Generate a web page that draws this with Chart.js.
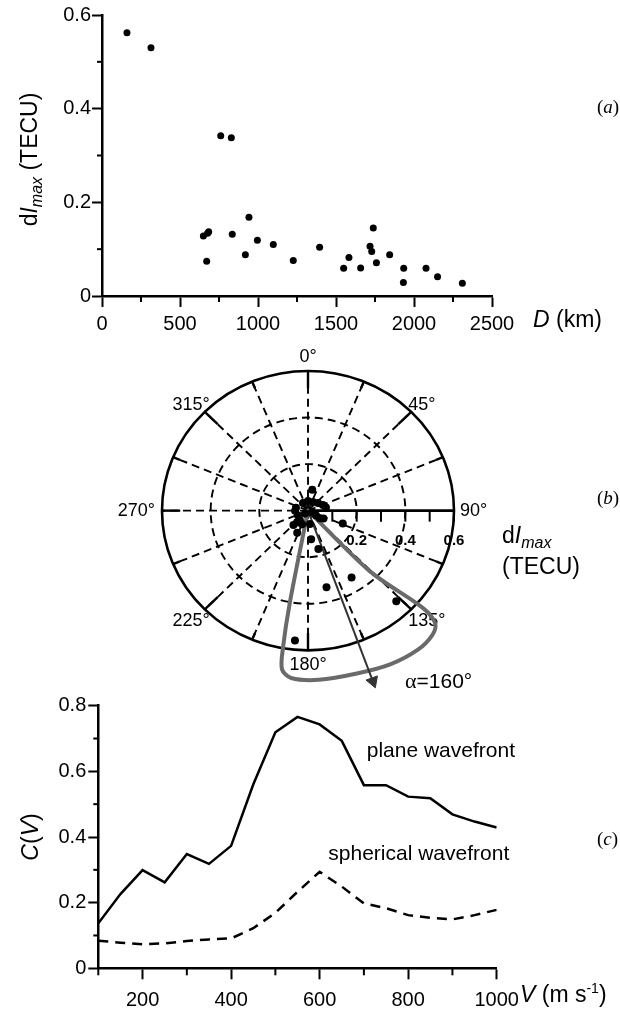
<!DOCTYPE html>
<html><head><meta charset="utf-8">
<script src="https://cdn.jsdelivr.net/npm/chart.js@4.4.1/dist/chart.umd.min.js"></script>
<style>
html,body{margin:0;padding:0;background:#fff;}
#wrap{position:relative;width:620px;height:1012px;overflow:hidden;background:#fff;}
canvas{position:absolute;left:0;}
</style></head><body>
<div id="wrap">
<canvas id="ca" width="620" height="345" style="top:0px"></canvas>
<canvas id="cc" width="620" height="322" style="top:690px"></canvas>
<canvas id="cb" width="620" height="370" style="top:340px"></canvas>
</div>
<script>
// ---------- Panel (a): dI_max vs distance ----------
const distanceKm = [160, 314, 761, 829, 650, 677, 684, 671, 835, 942, 919, 996, 1098, 1226, 1395, 1549, 1583, 1658, 1739, 1718, 1729, 1759, 1844, 1934, 1932, 2077, 2151, 2310];
const dImaxTECU  = [0.562, 0.530, 0.342, 0.338, 0.128, 0.134, 0.137, 0.074, 0.132, 0.168, 0.088, 0.119, 0.110, 0.076, 0.104, 0.059, 0.082, 0.060, 0.145, 0.106, 0.095, 0.071, 0.088, 0.059, 0.029, 0.059, 0.041, 0.027];
const aXMajor = [0, 500, 1000, 1500, 2000, 2500];
const aXLabels = ['0', '500', '1000', '1500', '2000', '2500'];
const aXMinor = [250, 750, 1250, 1750, 2250];
const aYMajor = [0, 0.2, 0.4, 0.6];
const aYLabels = ['0', '0.2', '0.4', '0.6'];
const aYMinor = [0.1, 0.3, 0.5];

// ---------- Panel (b): polar diagram ----------
const azimuthDeg = [185.5, 137, 148, 167, 165.5, 111, 174, 205, 224, 11, 118, 284, 243, 219, 328, 0, 29, 51, 68, 80, 270, 225, 117, 122, 124, 203, 172, 222];
const polarDImax = [0.560, 0.532, 0.338, 0.338, 0.170, 0.153, 0.124, 0.105, 0.086, 0.091, 0.072, 0.051, 0.046, 0.053, 0.039, 0.041, 0.042, 0.053, 0.066, 0.075, 0.053, 0.017, 0.018, 0.039, 0.059, 0.063, 0.058, 0.067];
const lobeAzimuth = [0, 190.7, 189.9, 188.9, 185.5, 176.5, 164, 152.7, 142.9, 136.5, 133, 131.6, 131.7, 135.7, 0];
const lobeRadius  = [0, 0.404, 0.598, 0.690, 0.722, 0.728, 0.728, 0.742, 0.749, 0.740, 0.716, 0.660, 0.600, 0.363, 0];
const arrowAzimuth = 160;
const arrowLength = 0.78;
const polarRings = [0.2, 0.4];
const polarMax = 0.6;
const polarRadialTicks = [0.1, 0.2, 0.3, 0.4, 0.5, 0.6];
const polarRadialLabels = ['0.2', '0.4', '0.6'];
const polarAngleLabels = ['0°', '45°', '90°', '135°', '180°', '225°', '270°', '315°'];

// ---------- Panel (c): C(V) ----------
const speedV = [100, 150, 200, 250, 300, 350, 400, 450, 500, 550, 600, 650, 700, 750, 800, 850, 900, 950, 1000];
const planeC = [0.137, 0.226, 0.299, 0.262, 0.348, 0.318, 0.373, 0.560, 0.719, 0.766, 0.743, 0.693, 0.558, 0.558, 0.523, 0.518, 0.469, 0.447, 0.429];
const sphericalC = [0.084, 0.078, 0.073, 0.076, 0.083, 0.088, 0.091, 0.122, 0.169, 0.233, 0.294, 0.249, 0.198, 0.183, 0.162, 0.154, 0.149, 0.162, 0.178];
const cXMajor = [200, 400, 600, 800, 1000];
const cXLabels = ['200', '400', '600', '800', '1000'];
const cXMinor = [100, 300, 500, 700, 900];
const cYMajor = [0, 0.2, 0.4, 0.6, 0.8];
const cYLabels = ['0', '0.2', '0.4', '0.6', '0.8'];
const cYMinor = [0.1, 0.3, 0.5, 0.7];

const SANS = '"Liberation Sans", Arial, Helvetica, sans-serif';
const SERIF = '"Liberation Serif", "Times New Roman", serif';

function runs(ctx, x, y, parts) {
  let cx = x;
  parts.forEach(p => {
    ctx.font = p.font;
    ctx.fillText(p.text, cx, y + (p.dy || 0));
    cx += ctx.measureText(p.text).width;
  });
}
function runsWidth(ctx, parts) {
  let w = 0;
  parts.forEach(p => { ctx.font = p.font; w += ctx.measureText(p.text).width; });
  return w;
}
function rotatedRuns(ctx, baseX, centerY, parts) {
  ctx.save();
  ctx.translate(baseX, centerY);
  ctx.rotate(-Math.PI / 2);
  ctx.textAlign = 'left';
  ctx.textBaseline = 'alphabetic';
  const w = runsWidth(ctx, parts);
  runs(ctx, -w / 2, 0, parts);
  ctx.restore();
}
function minorTicks(chart, xMinor, yMinor, xLen, yLen) {
  const {ctx, chartArea} = chart;
  const xs = chart.scales.x, ys = chart.scales.y;
  ctx.save();
  ctx.strokeStyle = '#000';
  ctx.lineWidth = 2;
  xMinor.forEach(v => {
    const p = xs.getPixelForValue(v);
    ctx.beginPath(); ctx.moveTo(p, chartArea.bottom); ctx.lineTo(p, chartArea.bottom + xLen); ctx.stroke();
  });
  yMinor.forEach(v => {
    const p = ys.getPixelForValue(v);
    ctx.beginPath(); ctx.moveTo(chartArea.left, p); ctx.lineTo(chartArea.left - yLen, p); ctx.stroke();
  });
  ctx.restore();
}

function axisOpts(min, max, major, labels, fitProp, fitVal, tickLen, pad) {
  return {
    type: 'linear', min: min, max: max,
    afterBuildTicks: s => { s.ticks = major.map(v => ({value: v})); },
    afterFit: s => { s[fitProp] = fitVal; },
    grid: {drawOnChartArea: false, drawTicks: true, tickLength: tickLen, tickWidth: 2, tickColor: '#000'},
    border: {display: true, color: '#000', width: 2.5},
    ticks: {
      font: {family: SANS, size: 20}, color: '#000', padding: pad,
      maxRotation: 0, autoSkip: false,
      callback: (v, i) => labels[i]
    }
  };
}

Chart.defaults.animation = false;

// ---------- Chart (a) ----------
new Chart(document.getElementById('ca'), {
  type: 'scatter',
  data: {datasets: [{
    data: distanceKm.map((d, i) => ({x: d, y: dImaxTECU[i]})),
    pointRadius: 3.5, pointBackgroundColor: '#000', pointBorderWidth: 0, showLine: false
  }]},
  options: {
    responsive: false, animation: false, events: [],
    layout: {padding: {left: 0, top: 15, right: 128, bottom: 0}},
    plugins: {legend: {display: false}, tooltip: {enabled: false}},
    scales: {
      x: axisOpts(0, 2500, aXMajor, aXLabels, 'height', 49, 11, 5),
      y: axisOpts(0, 0.6, aYMajor, aYLabels, 'width', 102, 10, 1)
    }
  },
  plugins: [{
    id: 'decorA',
    afterDraw(chart) {
      const ctx = chart.ctx;
      minorTicks(chart, aXMinor, aYMinor, 6, 5);
      ctx.save();
      ctx.fillStyle = '#000';
      const ca = chart.chartArea;
      rotatedRuns(ctx, 37, (ca.top + ca.bottom) / 2 + 4, [
        {text: 'd', font: '23px ' + SANS},
        {text: 'I', font: 'italic 23px ' + SANS},
        {text: 'max', font: 'italic 16px ' + SANS, dy: 5},
        {text: ' (TECU)', font: '23px ' + SANS}
      ]);
      ctx.textAlign = 'left'; ctx.textBaseline = 'alphabetic';
      runs(ctx, 533, 327, [
        {text: 'D', font: 'italic 23px ' + SANS},
        {text: ' (km)', font: '23px ' + SANS}
      ]);
      runs(ctx, 597, 113, [{text: '(', font: '19px ' + SERIF}, {text: 'a', font: 'italic 19px ' + SERIF}, {text: ')', font: '19px ' + SERIF}]);
      ctx.restore();
    }
  }]
});

// ---------- Chart (b) ----------
const toXY = (deg, r) => ({x: r * Math.sin(deg * Math.PI / 180), y: r * Math.cos(deg * Math.PI / 180)});
new Chart(document.getElementById('cb'), {
  type: 'scatter',
  data: {datasets: [
    {
      data: azimuthDeg.map((a, i) => toXY(a, polarDImax[i])),
      pointRadius: 4, pointBackgroundColor: '#000', pointBorderWidth: 0, showLine: false
    },
    {
      data: [toXY(arrowAzimuth, 0), toXY(arrowAzimuth, arrowLength)],
      showLine: true, borderColor: '#333', borderWidth: 2,
      pointRadius: [0, 7], pointStyle: 'triangle', pointRotation: arrowAzimuth,
      pointBackgroundColor: '#333', pointBorderColor: '#333', pointBorderWidth: 1, clip: false
    },
    {
      data: lobeAzimuth.map((a, i) => toXY(a, lobeRadius[i])),
      showLine: true, borderColor: '#6a6a6a', borderWidth: 4, pointRadius: 0,
      tension: 0.3, borderJoinStyle: 'round', borderCapStyle: 'round', clip: false
    }
  ]},
  options: {
    responsive: false, animation: false, events: [],
    layout: {padding: {left: 16, right: 20, top: 0, bottom: 0}},
    plugins: {legend: {display: false}, tooltip: {enabled: false}},
    scales: {
      x: {type: 'linear', display: false, min: -1.2, max: 1.2},
      y: {type: 'linear', display: false, min: -0.8219, max: 0.6986}
    }
  },
  plugins: [{
    id: 'polarGrid',
    beforeDatasetsDraw(chart) {
      const ctx = chart.ctx;
      const xs = chart.scales.x, ys = chart.scales.y;
      const cx = xs.getPixelForValue(0), cy = ys.getPixelForValue(0);
      const rx = v => xs.getPixelForValue(v) - cx;
      const ry = v => cy - ys.getPixelForValue(v);
      const pt = (deg, r) => { const p = toXY(deg, r); return [xs.getPixelForValue(p.x), ys.getPixelForValue(p.y)]; };
      ctx.save();
      ctx.strokeStyle = '#000';
      ctx.setLineDash([8, 5]);
      ctx.lineWidth = 1.9;
      polarRings.forEach(r => {
        ctx.beginPath(); ctx.ellipse(cx, cy, rx(r), ry(r), 0, 0, 2 * Math.PI); ctx.stroke();
      });
      const spokes = [];
      for (let k = 0; k < 16; k++) spokes.push(k * 22.5);
      spokes.forEach(a => {
        if (a === 90) return;
        const [x1, y1] = pt(a, polarMax);
        ctx.beginPath(); ctx.moveTo(cx, cy); ctx.lineTo(x1, y1); ctx.stroke();
      });
      ctx.setLineDash([]);
      ctx.lineWidth = 2.4;
      spokes.forEach(a => {
        if (a === 90) return;
        const inner = (a % 45 === 0) ? polarMax - 0.075 : polarMax - 0.03;
        const [x0, y0] = pt(a, inner);
        const [x1, y1] = pt(a, polarMax);
        ctx.beginPath(); ctx.moveTo(x0, y0); ctx.lineTo(x1, y1); ctx.stroke();
      });
      ctx.lineWidth = 2.6;
      ctx.beginPath(); ctx.ellipse(cx, cy, rx(polarMax), ry(polarMax), 0, 0, 2 * Math.PI); ctx.stroke();
      // radial axis at 90°
      const [ex, ey] = pt(90, polarMax);
      ctx.beginPath(); ctx.moveTo(cx, cy); ctx.lineTo(ex, ey); ctx.stroke();
      ctx.lineWidth = 2;
      polarRadialTicks.forEach(v => {
        const [tx, ty] = pt(90, v);
        ctx.beginPath(); ctx.moveTo(tx, ty); ctx.lineTo(tx, ty + 11); ctx.stroke();
      });
      // radial labels
      ctx.fillStyle = '#000';
      ctx.font = 'bold 15px ' + SANS;
      ctx.textAlign = 'center'; ctx.textBaseline = 'middle';
      [0.2, 0.4, 0.6].forEach((v, i) => {
        const [tx] = pt(90, v);
        ctx.fillText(polarRadialLabels[i], tx, cy + 30);
      });
      // angle labels
      ctx.font = '18px ' + SANS;
      polarAngleLabels.forEach((lab, i) => {
        const a = i * 45;
        const [px, py] = pt(a, polarMax);
        let x = px, y = py, al = 'center', bl = 'alphabetic';
        if (a === 0) { y = py - 9; }
        else if (a === 45) { al = 'left'; x = px - 3; y = py - 2; }
        else if (a === 90) { al = 'left'; x = px + 6; bl = 'middle'; y = py; }
        else if (a === 135) { al = 'left'; x = px - 3; y = py + 17; }
        else if (a === 180) { y = py + 20; }
        else if (a === 225) { al = 'right'; x = px + 5; y = py + 17; }
        else if (a === 270) { al = 'right'; x = px - 7; bl = 'middle'; y = py; }
        else if (a === 315) { al = 'right'; x = px + 5; y = py - 2; }
        ctx.textAlign = al; ctx.textBaseline = bl;
        ctx.fillText(lab, x, y);
      });
      ctx.restore();
    },
    afterDraw(chart) {
      const ctx = chart.ctx;
      const xs = chart.scales.x, ys = chart.scales.y;
      const cx = xs.getPixelForValue(0), cy = ys.getPixelForValue(0);
      ctx.save();
      ctx.fillStyle = '#000';
      ctx.textAlign = 'left'; ctx.textBaseline = 'alphabetic';
      runs(ctx, cx + 194, cy + 32, [
        {text: 'd', font: '23px ' + SANS},
        {text: 'I', font: 'italic 23px ' + SANS},
        {text: 'max', font: 'italic 16px ' + SANS, dy: 5}
      ]);
      runs(ctx, cx + 194, cy + 63, [{text: '(TECU)', font: '23px ' + SANS}]);
      runs(ctx, 597, cy - 7, [{text: '(', font: '19px ' + SERIF}, {text: 'b', font: 'italic 19px ' + SERIF}, {text: ')', font: '19px ' + SERIF}]);
      runs(ctx, cx + 97, cy + 177, [
        {text: 'α', font: '22px ' + SERIF},
        {text: '=160°', font: '21px ' + SANS}
      ]);
      ctx.restore();
    }
  }]
});

// ---------- Chart (c) ----------
new Chart(document.getElementById('cc'), {
  type: 'line',
  data: {datasets: [
    {data: speedV.map((v, i) => ({x: v, y: planeC[i]})), borderColor: '#000', borderWidth: 2.5, pointRadius: 0, tension: 0, fill: false},
    {data: speedV.map((v, i) => ({x: v, y: sphericalC[i]})), borderColor: '#000', borderWidth: 2.5, borderDash: [10, 7], pointRadius: 0, tension: 0, fill: false}
  ]},
  options: {
    responsive: false, animation: false, events: [],
    layout: {padding: {left: 0, top: 15.7, right: 123.3, bottom: 0}},
    plugins: {legend: {display: false}, tooltip: {enabled: false}},
    scales: {
      x: axisOpts(100, 1000, cXMajor, cXLabels, 'height', 43.7, 11, 9),
      y: axisOpts(0, 0.8, cYMajor, cYLabels, 'width', 98.3, 10, 2)
    }
  },
  plugins: [{
    id: 'decorC',
    afterDraw(chart) {
      const ctx = chart.ctx;
      minorTicks(chart, cXMinor, cYMinor, 7, 5);
      const ca = chart.chartArea;
      ctx.save();
      ctx.fillStyle = '#000';
      rotatedRuns(ctx, 38, (ca.top + ca.bottom) / 2, [
        {text: 'C', font: 'italic 23px ' + SANS},
        {text: '(', font: '23px ' + SANS},
        {text: 'V', font: 'italic 23px ' + SANS},
        {text: ')', font: '23px ' + SANS}
      ]);
      ctx.textAlign = 'left'; ctx.textBaseline = 'alphabetic';
      runs(ctx, 520, 312, [
        {text: 'V', font: 'italic 23px ' + SANS},
        {text: ' (m s', font: '23px ' + SANS},
        {text: '-1', font: '14px ' + SANS, dy: -9},
        {text: ')', font: '23px ' + SANS}
      ]);
      runs(ctx, 366.7, 66.7, [{text: 'plane wavefront', font: '21px ' + SANS}]);
      runs(ctx, 328.3, 170, [{text: 'spherical wavefront', font: '21px ' + SANS}]);
      runs(ctx, 597, 155, [{text: '(', font: '19px ' + SERIF}, {text: 'c', font: 'italic 19px ' + SERIF}, {text: ')', font: '19px ' + SERIF}]);
      ctx.restore();
    }
  }]
});
</script>
</body></html>
